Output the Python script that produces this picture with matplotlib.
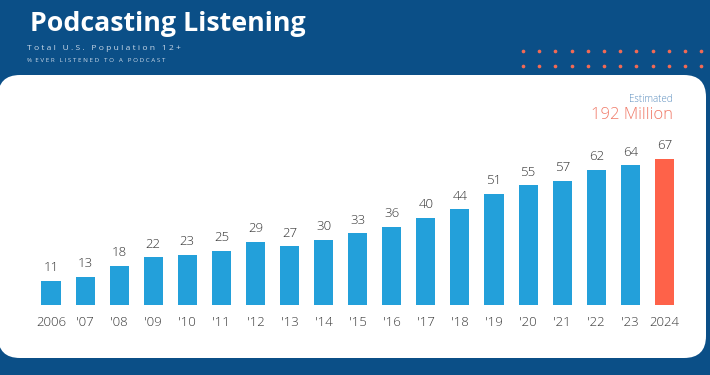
import numpy as np
import matplotlib.pyplot as plt
from matplotlib.patches import FancyBboxPatch

# data
years = ['2006', "'07", "'08", "'09", "'10", "'11", "'12", "'13", "'14", "'15",
         "'16", "'17", "'18", "'19", "'20", "'21", "'22", "'23", '2024']
values = [11, 13, 18, 22, 23, 25, 29, 27, 30, 33, 36, 40, 44, 51, 55, 57, 62, 64, 67]

navy = '#0b4f87'
blue = '#23a0da'
orange = '#fe6249'

plt.rcParams['font.family'] = ['Open Sans', 'DejaVu Sans']

fig = plt.figure(figsize=(7.1, 3.75), dpi=100, facecolor=navy)

# background layer in pixel coordinates
bg = fig.add_axes([0, 0, 1, 1], zorder=0)
bg.set_xlim(0, 710)
bg.set_ylim(375, 0)
bg.axis('off')
panel = FancyBboxPatch((-2, 75), 708, 283, boxstyle='round,pad=0,rounding_size=22',
                       facecolor='white', edgecolor='none')
bg.add_patch(panel)

# decorative dots
dx = np.arange(12) * 16.2 + 523
for yy in (51, 66):
    bg.scatter(dx, np.full(12, yy), s=7, color='#f26a55', linewidths=0)

# titles
fig.text(30 / 710, 1 - 24 / 375, 'Podcasting Listening', color='white', fontsize=19.3,
         fontweight='bold', va='center', ha='left')
fig.text(27 / 710, 1 - 48 / 375, 'T o t a l   U . S .   P o p u l a t i o n   1 2 +',
         color='#c9d8e8', fontsize=6.1, va='center', ha='left')
fig.text(27 / 710, 1 - 60 / 375, '%  E V E R   L I S T E N E D   T O   A   P O D C A S T',
         color='#c9d8e8', fontsize=4.5, va='center', ha='left')
fig.text(673 / 710, 1 - 99 / 375, 'Estimated', color='#5d8fbf', fontsize=7,
         fontweight='light', va='center', ha='right')
fig.text(673 / 710, 1 - 115 / 375, '192 Million', color='#f07a68', fontsize=12,
         fontweight='light', va='center', ha='right')

# bar chart
ax = fig.add_axes([16.9 / 710, 70 / 375, 681.6 / 710, 174.4 / 375], zorder=2)
ax.patch.set_alpha(0)
x = np.arange(len(years))
colors = [blue] * (len(years) - 1) + [orange]
bars = ax.bar(x, values, width=0.56, color=colors)
ax.set_xlim(-1, 19)
ax.set_ylim(0, 80)
for xi, v in zip(x, values):
    ax.text(xi, v + 3, str(v), ha='center', va='bottom', fontsize=9.5,
            fontweight='light', color='#333333')
ax.set_xticks(x)
ax.set_xticklabels(years, fontsize=9.5, color='#3a3a3a', fontweight='light')
ax.tick_params(axis='x', length=0, pad=8)
ax.set_yticks([])
for s in ax.spines.values():
    s.set_visible(False)

fig.savefig('out.png', dpi=100, facecolor=navy)
